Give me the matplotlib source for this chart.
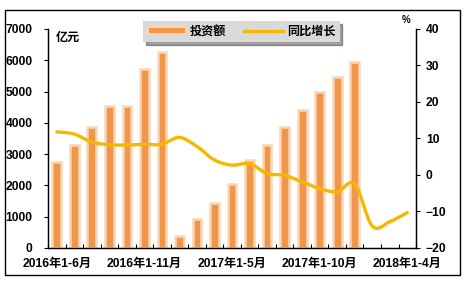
import numpy as np
import matplotlib
matplotlib.use("Agg")
import matplotlib.pyplot as plt
from matplotlib.path import Path
from matplotlib.patches import PathPatch, Rectangle
from matplotlib.lines import Line2D

plt.rcParams['font.family'] = ['Liberation Sans', 'Noto Sans CJK SC']
plt.rcParams['font.weight'] = 'bold'

# ── data ──
months = ["2016年1-6月", "2016年1-7月", "2016年1-8月", "2016年1-9月", "2016年1-10月",
          "2016年1-11月", "2016年1-12月", "2017年1-2月", "2017年1-3月", "2017年1-4月",
          "2017年1-5月", "2017年1-6月", "2017年1-7月", "2017年1-8月", "2017年1-9月",
          "2017年1-10月", "2017年1-11月", "2017年1-12月", "2018年1-2月", "2018年1-3月",
          "2018年1-4月"]
invest = [2750, 3300, 3870, 4540, 4540, 5710, 6270, 370, 920, 1440, 2050,
          2800, 3300, 3860, 4410, 4990, 5450, 5950]
growth = [11.8, 11.2, 9.0, 8.3, 8.2, 8.4, 8.4, 10.3, 7.8, 4.1, 2.7,
          3.1, 0.4, -0.1, -1.9, -3.7, -4.6, -2.4, -14.0, -12.8, -10.3]
shown_labels = [0, 5, 10, 15, 20]

bar_color = "#F0964A"
bar_edge = "#FAD5B5"
line_color = "#F5B800"


def smooth_path(xs, ys, tension=1 / 6):
    # Catmull-Rom style bezier segments, like a spreadsheet "smoothed line"
    xs = np.asarray(xs, float)
    ys = np.asarray(ys, float)
    n = len(xs)
    verts = [(xs[0], ys[0])]
    codes = [Path.MOVETO]
    for i in range(n - 1):
        x0, y0 = (xs[i - 1], ys[i - 1]) if i > 0 else (xs[i], ys[i])
        x3, y3 = (xs[i + 2], ys[i + 2]) if i + 2 < n else (xs[i + 1], ys[i + 1])
        c1 = (xs[i] + (xs[i + 1] - x0) * tension, ys[i] + (ys[i + 1] - y0) * tension)
        c2 = (xs[i + 1] - (x3 - xs[i]) * tension, ys[i + 1] - (y3 - ys[i]) * tension)
        verts += [c1, c2, (xs[i + 1], ys[i + 1])]
        codes += [Path.CURVE4] * 3
    return Path(verts, codes)


fig = plt.figure(figsize=(4.68, 2.84), dpi=100)
ax = fig.add_axes([0.1026, 0.1268, 0.7864, 0.7712])
ax2 = ax.twinx()

x = np.arange(len(months))
ax.bar(x[:len(invest)], invest, width=0.5, color=bar_color,
       edgecolor=bar_edge, linewidth=1.8, zorder=2)
ax.set_xlim(-0.5, len(months) - 0.5)
ax.set_ylim(0, 7000)
ax.set_yticks(range(0, 7001, 1000))
ax.set_xticks(x[shown_labels])
ax.set_xticklabels([months[i] for i in shown_labels], fontsize=8.7, fontweight='bold')
ax.set_xticks(np.arange(-0.5, len(months), 1), minor=True)
ax.tick_params(axis='x', which='major', length=0, pad=7)
ax.tick_params(axis='x', which='minor', direction='in', length=3, width=0.8)
ax.tick_params(axis='y', direction='out', length=3, width=0.8, labelsize=8.7, pad=8)
for lbl in ax.get_yticklabels():
    lbl.set_fontweight('bold')

ax2.add_patch(PathPatch(smooth_path(x, growth), facecolor='none',
                        edgecolor=line_color, linewidth=2.4, capstyle='round',
                        joinstyle='round', zorder=3))
ax2.set_ylim(-20, 40)
ax2.set_yticks(range(-20, 41, 10))
ax2.tick_params(axis='y', direction='out', length=3, width=0.8, labelsize=8.7, pad=4)
for lbl in ax2.get_yticklabels():
    lbl.set_fontweight('bold')

for a in (ax, ax2):
    a.spines['top'].set_visible(False)
    for s in ('left', 'right', 'bottom'):
        a.spines[s].set_linewidth(0.9)

ax.text(0.02, 0.985, "亿元", transform=ax.transAxes, ha='left', va='top',
        fontsize=8.7, fontweight='bold')
ax2.text(0.985, 1.02, "%", transform=ax2.transAxes, ha='right', va='bottom',
         fontsize=7, fontweight='bold')

handles = [Rectangle((0, 0), 1, 1, facecolor=bar_color, edgecolor=bar_edge, linewidth=1.5),
           Line2D([], [], color=line_color, linewidth=2.4)]
leg = fig.legend(handles, ["投资额", "同比增长"], loc='center', ncol=2,
                 bbox_to_anchor=(0.516, 0.889), frameon=True, fancybox=False,
                 shadow=True, facecolor='#D9D9D9', edgecolor='none',
                 prop={'weight': 'bold', 'size': 8.7}, handlelength=3.2,
                 handleheight=0.5, columnspacing=1.5, borderpad=0.35, handletextpad=0.3)
leg.get_frame().set_alpha(1)

fig.patches.append(Rectangle((0.0107, 0.0317), 0.972, 0.933, transform=fig.transFigure,
                             fill=False, edgecolor='black', linewidth=1.0))

fig.savefig("out.png", dpi=100)
